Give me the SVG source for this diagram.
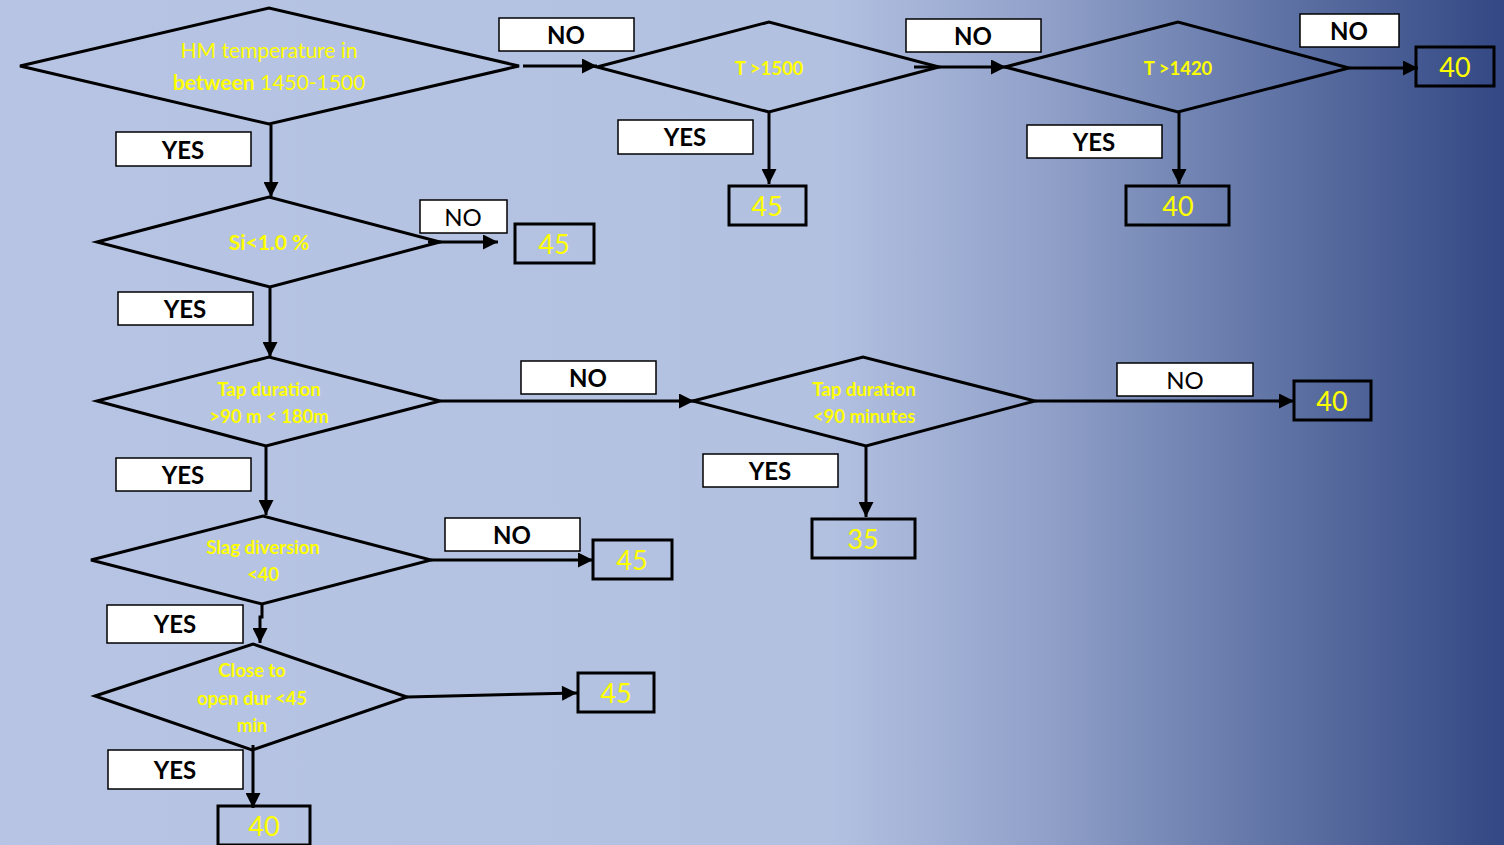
<svg xmlns="http://www.w3.org/2000/svg" width="1504" height="845" viewBox="0 0 1504 845">
<defs>
<linearGradient id="bg" x1="0" y1="0" x2="1" y2="0">
<stop offset="0" stop-color="#b7c4e4"/>
<stop offset="0.55" stop-color="#b3c1e1"/>
<stop offset="0.7" stop-color="#8f9fc8"/>
<stop offset="0.85" stop-color="#5f73a5"/>
<stop offset="1" stop-color="#334884"/>
</linearGradient>
<marker id="ah" viewBox="0 0 10 10" refX="10" refY="5" markerWidth="17" markerHeight="15" markerUnits="userSpaceOnUse" orient="auto">
<path d="M0,0 L10,5 L0,10 Z" fill="#000"/>
</marker>
<style>
.dia{fill:none;stroke:#000;stroke-width:3}
.lbl rect{fill:#fff;stroke:#000;stroke-width:1.5}
.lbl text{font-family:Lato,"Liberation Sans",sans-serif;font-weight:bold;font-size:24px;fill:#000;text-anchor:middle}
.lbl text.n{font-weight:normal}
.res rect{fill:none;stroke:#000;stroke-width:3}
.res text{font-family:Lato,"Liberation Sans",sans-serif;font-size:27px;fill:#ffff00;text-anchor:middle}
.dt{font-family:Lato,"Liberation Sans",sans-serif;font-weight:bold;font-size:18.5px;fill:#ffff00;text-anchor:middle}
.dt.big{font-size:21px}
.dt2{font-family:Lato,"Liberation Sans",sans-serif;font-size:21px;fill:#ffff00;text-anchor:middle}
.con line,.con polyline{stroke:#000;stroke-width:3;fill:none;marker-end:url(#ah)}
</style>
</defs>
<rect width="1504" height="845" fill="url(#bg)"/>

<g id="connectors" class="con">
<line x1="523" y1="66" x2="597" y2="66"/>
<line x1="914" y1="67" x2="1006" y2="67"/>
<line x1="1349" y1="68" x2="1418" y2="68"/>
<line x1="769" y1="112" x2="769" y2="184"/>
<line x1="1179" y1="112" x2="1179" y2="184"/>
<line x1="271" y1="125" x2="271" y2="197"/>
<line x1="428" y1="242" x2="498" y2="242"/>
<line x1="270" y1="287" x2="270" y2="357"/>
<line x1="440" y1="401" x2="694" y2="401"/>
<line x1="1035" y1="401" x2="1294" y2="401"/>
<line x1="866" y1="446" x2="866" y2="517"/>
<line x1="266" y1="446" x2="266" y2="515"/>
<line x1="431" y1="560" x2="593" y2="560"/>
<polyline points="262,604 262,617 260,617 260,643"/>
<line x1="407" y1="697" x2="577" y2="693"/>
<line x1="253" y1="745" x2="253" y2="808"/>
</g>

<g id="d1"><polygon class="dia" points="20,66 269,8 519,66 269,124"/>
<text class="dt2" x="269" y="58">HM temperature in</text>
<text class="dt2" x="269" y="90"><tspan font-weight="bold">between</tspan> 1450-1500</text></g>
<g id="d2"><polygon class="dia" points="597,67 769,22 939,67 769,112"/>
<text class="dt" x="769" y="75">T &gt;1500</text></g>
<g id="d3"><polygon class="dia" points="1005,67 1178,22 1349,68 1178,112"/>
<text class="dt" x="1178" y="75">T &gt;1420</text></g>
<g id="d4"><polygon class="dia" points="97,242 269,197 440,242 270,287"/>
<text class="dt big" x="269" y="250">Si&lt;1.0 %</text></g>
<g id="d5"><polygon class="dia" points="97,401 269,357 440,401 266,446"/>
<text class="dt" x="269" y="396">Tap duration</text>
<text class="dt" x="269" y="423">&gt;90 m &lt; 180m</text></g>
<g id="d6"><polygon class="dia" points="693,401 863,357 1035,401 866,446"/>
<text class="dt" x="864" y="396">Tap duration</text>
<text class="dt" x="864" y="423">&lt;90 minutes</text></g>
<g id="d7"><polygon class="dia" points="91,560 263,516 431,560 262,604"/>
<text class="dt" x="263" y="554">Slag diversion</text>
<text class="dt" x="263" y="581">&lt;40</text></g>
<g id="d8"><polygon class="dia" points="95,696 253,644 407,697 252,750"/>
<text class="dt" x="252" y="677">Close to</text>
<text class="dt" x="252" y="705">open dur &lt;45</text>
<text class="dt" x="252" y="732">min</text></g>

<g id="l1" class="lbl"><rect x="499" y="18" width="135" height="33"/><text x="566" y="44">NO</text></g>
<g id="l2" class="lbl"><rect x="906" y="19" width="135" height="33"/><text x="973" y="45">NO</text></g>
<g id="l3" class="lbl"><rect x="1300" y="14" width="99" height="33"/><text x="1349" y="40">NO</text></g>
<g id="l4" class="lbl"><rect x="618" y="120" width="135" height="34"/><text x="685" y="146">YES</text></g>
<g id="l5" class="lbl"><rect x="1027" y="125" width="135" height="33"/><text x="1094" y="151">YES</text></g>
<g id="l6" class="lbl"><rect x="116" y="132" width="135" height="34"/><text x="183" y="159">YES</text></g>
<g id="l7" class="lbl"><rect x="420" y="200" width="87" height="33"/><text class="n" x="463" y="226">NO</text></g>
<g id="l8" class="lbl"><rect x="118" y="292" width="135" height="33"/><text x="185" y="318">YES</text></g>
<g id="l9" class="lbl"><rect x="521" y="361" width="135" height="33"/><text x="588" y="387">NO</text></g>
<g id="l10" class="lbl"><rect x="1117" y="363" width="136" height="33"/><text class="n" x="1185" y="389">NO</text></g>
<g id="l11" class="lbl"><rect x="116" y="458" width="135" height="33"/><text x="183" y="484">YES</text></g>
<g id="l12" class="lbl"><rect x="703" y="454" width="135" height="33"/><text x="770" y="480">YES</text></g>
<g id="l13" class="lbl"><rect x="445" y="518" width="135" height="33"/><text x="512" y="544">NO</text></g>
<g id="l14" class="lbl"><rect x="107" y="605" width="136" height="38"/><text x="175" y="633">YES</text></g>
<g id="l15" class="lbl"><rect x="108" y="750" width="135" height="39"/><text x="175" y="779">YES</text></g>

<g id="r1" class="res"><rect x="1416" y="47" width="78" height="39"/><text x="1455" y="77">40</text></g>
<g id="r2" class="res"><rect x="729" y="186" width="77" height="39"/><text x="767" y="216">45</text></g>
<g id="r3" class="res"><rect x="1126" y="186" width="103" height="39"/><text x="1178" y="216">40</text></g>
<g id="r4" class="res"><rect x="515" y="224" width="79" height="39"/><text x="554" y="254">45</text></g>
<g id="r5" class="res"><rect x="1294" y="381" width="77" height="39"/><text x="1332" y="411">40</text></g>
<g id="r6" class="res"><rect x="812" y="519" width="103" height="39"/><text x="863" y="549">35</text></g>
<g id="r7" class="res"><rect x="593" y="540" width="79" height="39"/><text x="632" y="570">45</text></g>
<g id="r8" class="res"><rect x="578" y="673" width="76" height="39"/><text x="616" y="703">45</text></g>
<g id="r9" class="res"><rect x="218" y="806" width="92" height="39"/><text x="264" y="836">40</text></g>
</svg>
